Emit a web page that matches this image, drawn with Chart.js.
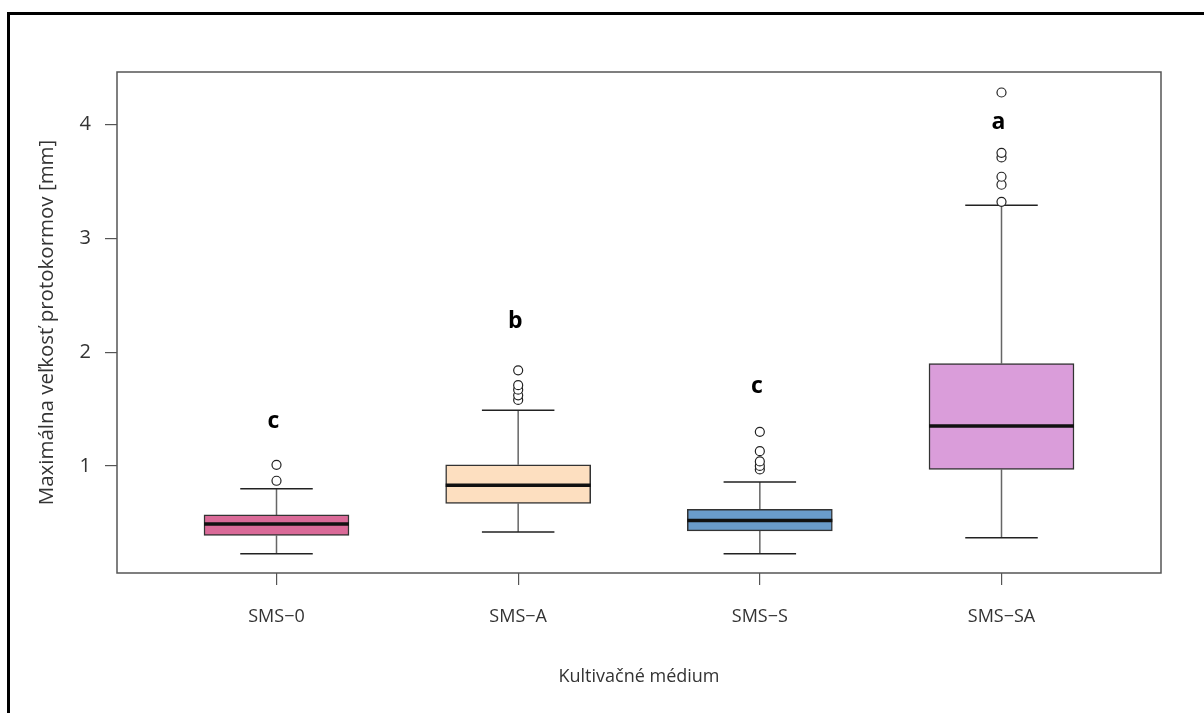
<!DOCTYPE html>
<html lang="sk">
<head>
    <meta charset="UTF-8">
    <title>Maximálna veľkosť protokormov</title>
    <script src="https://cdn.jsdelivr.net/npm/chart.js"></script>
    <style>
        body {
            margin: 0;
            background-color: white;
            font-family: "Open Sans", sans-serif;
        }
        .frame {
            position: absolute;
            left: 7px;
            top: 12px;
            right: 0;
            bottom: 0;
            border-left: 3px solid #000;
            border-top: 3px solid #000;
        }
        canvas {
            position: absolute;
            left: 0;
            top: 0;
        }
    </style>
</head>
<body>
    <div class="frame"></div>
    <canvas id="boxChart" width="1204" height="713"></canvas>

    <script>
        const categories = ['SMS−0', 'SMS−A', 'SMS−S', 'SMS−SA'];
        const lowerWhisker = [0.23, 0.42, 0.23, 0.37];
        const q1 = [0.39, 0.67, 0.43, 0.97];
        const median = [0.49, 0.83, 0.52, 1.35];
        const q3 = [0.57, 1.01, 0.62, 1.90];
        const upperWhisker = [0.80, 1.49, 0.86, 3.29];
        const outliers = [
            [0.87, 1.01],
            [1.58, 1.62, 1.67, 1.71, 1.84],
            [0.97, 1.00, 1.04, 1.13, 1.30],
            [3.32, 3.47, 3.54, 3.71, 3.75, 4.28]
        ];
        const letters = ['c', 'b', 'c', 'a'];
        const letterY = [1.39, 2.27, 1.70, 4.02];
        const yTicks = [1, 2, 3, 4];
        const boxColors = ['#DA6A98', '#FDDFC0', '#6A9CCB', '#DA9DDA'];

        const xPos = categories.map((c, i) => i + 1);
        const outlierPoints = [];
        outliers.forEach((list, i) => list.forEach(v => outlierPoints.push({ x: i + 1, y: v })));

        // whiskers, caps, medians, letters drawn from the scales
        const boxPlugin = {
            id: 'boxParts',
            beforeDatasetsDraw(chart) {
                const { ctx, scales: { x, y } } = chart;
                const unit = x.getPixelForValue(1) - x.getPixelForValue(0);
                ctx.save();
                xPos.forEach((p, i) => {
                    const cx = x.getPixelForValue(p);
                    ctx.strokeStyle = '#666';
                    ctx.lineWidth = 1.5;
                    ctx.beginPath();
                    ctx.moveTo(cx, y.getPixelForValue(q3[i]));
                    ctx.lineTo(cx, y.getPixelForValue(upperWhisker[i]));
                    ctx.moveTo(cx, y.getPixelForValue(q1[i]));
                    ctx.lineTo(cx, y.getPixelForValue(lowerWhisker[i]));
                    ctx.stroke();
                    ctx.strokeStyle = '#222';
                    ctx.beginPath();
                    [upperWhisker[i], lowerWhisker[i]].forEach(v => {
                        const py = y.getPixelForValue(v);
                        ctx.moveTo(cx - unit * 0.15, py);
                        ctx.lineTo(cx + unit * 0.15, py);
                    });
                    ctx.stroke();
                });
                ctx.restore();
            },
            afterDatasetsDraw(chart) {
                const { ctx, chartArea, scales: { x, y } } = chart;
                const unit = x.getPixelForValue(1) - x.getPixelForValue(0);
                ctx.save();
                xPos.forEach((p, i) => {
                    const cx = x.getPixelForValue(p);
                    const py = y.getPixelForValue(median[i]);
                    ctx.strokeStyle = '#111';
                    ctx.lineWidth = 3.5;
                    ctx.beginPath();
                    ctx.moveTo(cx - unit * 0.3, py);
                    ctx.lineTo(cx + unit * 0.3, py);
                    ctx.stroke();
                    ctx.fillStyle = '#000';
                    ctx.font = 'bold 23px "Open Sans"';
                    ctx.textAlign = 'center';
                    ctx.textBaseline = 'middle';
                    ctx.fillText(letters[i], cx - 3, y.getPixelForValue(letterY[i]));
                });
                ctx.strokeStyle = '#555';
                ctx.lineWidth = 1.5;
                ctx.strokeRect(chartArea.left, chartArea.top,
                    chartArea.right - chartArea.left, chartArea.bottom - chartArea.top);
                ctx.restore();
            }
        };

        const ctx = document.getElementById('boxChart').getContext('2d');
        new Chart(ctx, {
            data: {
                datasets: [
                    {
                        type: 'bar',
                        data: xPos.map((p, i) => ({ x: p, y: [q1[i], q3[i]] })),
                        backgroundColor: boxColors,
                        borderColor: '#333',
                        borderWidth: 1.5,
                        borderSkipped: false,
                        barThickness: 145,
                        order: 2
                    },
                    {
                        type: 'scatter',
                        data: outlierPoints,
                        pointRadius: 4.5,
                        pointBackgroundColor: '#fff',
                        pointBorderColor: '#222',
                        pointBorderWidth: 1.2,
                        order: 1
                    }
                ]
            },
            options: {
                responsive: false,
                animation: false,
                layout: { padding: { left: 0, top: 72, right: 43, bottom: 0 } },
                plugins: {
                    legend: { display: false },
                    tooltip: { enabled: false }
                },
                scales: {
                    x: {
                        type: 'linear',
                        offset: false,
                        min: 0.34,
                        max: 4.66,
                        afterBuildTicks: s => { s.ticks = xPos.map(v => ({ value: v })); },
                        afterFit: s => { s.height = 140; },
                        border: { display: false },
                        grid: { offset: false, drawOnChartArea: false, tickLength: 12, color: '#555', lineWidth: 1.2 },
                        ticks: {
                            padding: 21,
                            color: '#333',
                            font: { family: 'Open Sans', size: 18 },
                            callback: v => categories[v - 1]
                        },
                        title: {
                            display: true,
                            text: 'Kultivačné médium',
                            color: '#333',
                            font: { family: 'Open Sans', size: 18 },
                            padding: { top: 0, bottom: 25 }
                        }
                    },
                    y: {
                        min: 0.06,
                        max: 4.46,
                        afterBuildTicks: s => { s.ticks = yTicks.map(v => ({ value: v })); },
                        afterFit: s => { s.width = 117; },
                        border: { display: false },
                        grid: { drawOnChartArea: false, tickLength: 12, color: '#555', lineWidth: 1.2 },
                        ticks: {
                            padding: 14,
                            color: '#333',
                            font: { family: 'Open Sans', size: 20 }
                        },
                        title: {
                            display: true,
                            text: 'Maximálna veľkosť protokormov [mm]',
                            color: '#333',
                            font: { family: 'Open Sans', size: 20.5 },
                            padding: { top: 35, bottom: 0 }
                        }
                    }
                }
            },
            plugins: [boxPlugin]
        });
    </script>
</body>
</html>
